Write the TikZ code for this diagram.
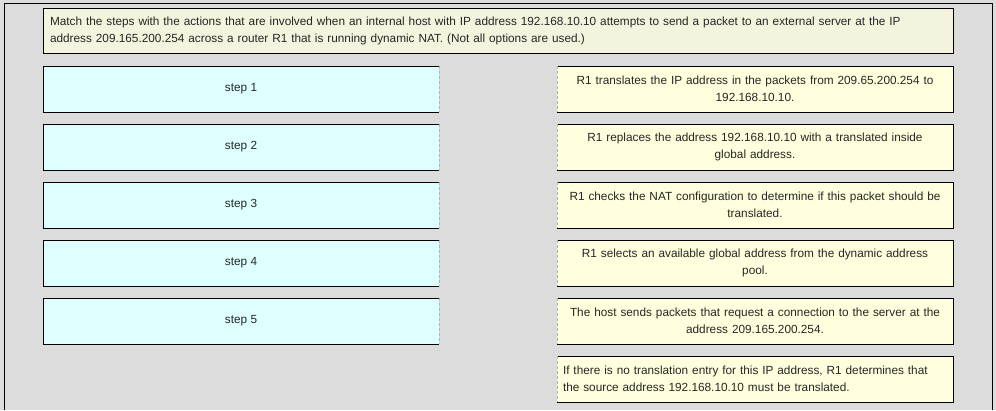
\documentclass[tikz,border=0pt]{standalone}
\usepackage{fontspec}
\setmainfont{Liberation Sans}
\usetikzlibrary{positioning}
\definecolor{panel}{RGB}{220,220,220}
\definecolor{stepfill}{RGB}{221,255,255}
\definecolor{actfill}{RGB}{255,255,221}
\definecolor{headfill}{RGB}{243,243,222}
\definecolor{faint}{RGB}{170,180,180}
\tikzset{
  txt/.style={font=\fontsize{11.8}{17}\selectfont, text=black!85},
  headbox/.style={txt, fill=headfill, minimum width=910pt, minimum height=45pt,
    text width=896pt, inner xsep=7pt, inner ysep=0pt, align=left},
  stepbox/.style={txt, fill=stepfill, minimum width=396pt, minimum height=46pt, inner sep=0pt},
  actbox/.style={txt, fill=actfill, minimum width=396pt, minimum height=46pt,
    text width=384pt, inner xsep=6pt, inner ysep=0pt, align=center},
  faintedge/.style={faint, densely dashed, line width=0.5pt},
}
\begin{document}
\begin{tikzpicture}[x=1pt,y=-1pt]
\fill[panel] (0,0) rectangle (996,410);
\useasboundingbox (0,0) rectangle (996,410);
\draw[line width=1pt] (4,410) -- (4,3) -- (992,3) -- (992,410); % frame
% question
\node[headbox] (head) at (498,30.5) {Match the steps with the actions that are involved when an internal host with IP address 192.168.10.10 attempts to send a packet to an external server at the IP\\address 209.165.200.254 across a router R1 that is running dynamic NAT. (Not all options are used.)};
\draw (head.north west) rectangle (head.south east);
% steps
\node[stepbox] (s1) at (241,89) {step 1};
\node[stepbox] (s2) at (241,147) {step 2};
\node[stepbox] (s3) at (241,205) {step 3};
\node[stepbox] (s4) at (241,263) {step 4};
\node[stepbox] (s5) at (241,321) {step 5};
\draw (s1.north east) -- (s1.north west) -- (s1.south west) -- (s1.south east); %s1
\draw[faintedge] (s1.north east) -- (s1.south east);
\draw (s2.north east) -- (s2.north west) -- (s2.south west) -- (s2.south east); %s2
\draw[faintedge] (s2.north east) -- (s2.south east);
\draw (s3.north east) -- (s3.north west) -- (s3.south west) -- (s3.south east); %s3
\draw[faintedge] (s3.north east) -- (s3.south east);
\draw (s4.north east) -- (s4.north west) -- (s4.south west) -- (s4.south east); %s4
\draw[faintedge] (s4.north east) -- (s4.south east);
\draw (s5.north east) -- (s5.north west) -- (s5.south west) -- (s5.south east); %s5
\draw[faintedge] (s5.north east) -- (s5.south east);
% actions
\node[actbox] (a1) at (755,89) {R1 translates the IP address in the packets from 209.65.200.254 to\\192.168.10.10.};
\node[actbox] (a2) at (755,147) {R1 replaces the address 192.168.10.10 with a translated inside\\global address.};
\node[actbox] (a3) at (755,205) {R1 checks the NAT configuration to determine if this packet should be\\translated.};
\node[actbox] (a4) at (755,263) {R1 selects an available global address from the dynamic address\\pool.};
\node[actbox] (a5) at (755,321) {The host sends packets that request a connection to the server at the\\address 209.165.200.254.};
\node[actbox, align=left] (a6) at (755,379) {If there is no translation entry for this IP address, R1 determines that\\the source address 192.168.10.10 must be translated.};
\draw (a1.north west) -- (a1.north east) -- (a1.south east) -- (a1.south west); %a1
\draw[faintedge] (a1.north west) -- (a1.south west);
\draw (a2.north west) -- (a2.north east) -- (a2.south east) -- (a2.south west); %a2
\draw[faintedge] (a2.north west) -- (a2.south west);
\draw (a3.north west) -- (a3.north east) -- (a3.south east) -- (a3.south west); %a3
\draw[faintedge] (a3.north west) -- (a3.south west);
\draw (a4.north west) -- (a4.north east) -- (a4.south east) -- (a4.south west); %a4
\draw[faintedge] (a4.north west) -- (a4.south west);
\draw (a5.north west) -- (a5.north east) -- (a5.south east) -- (a5.south west); %a5
\draw[faintedge] (a5.north west) -- (a5.south west);
\draw (a6.north west) -- (a6.north east) -- (a6.south east) -- (a6.south west); %a6
\draw[faintedge] (a6.north west) -- (a6.south west);
\end{tikzpicture}
\end{document}
